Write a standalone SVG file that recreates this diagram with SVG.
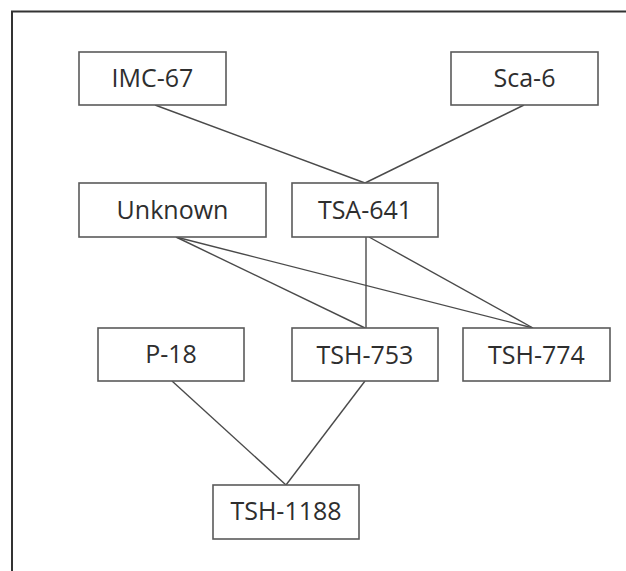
<svg xmlns="http://www.w3.org/2000/svg" width="626" height="571" viewBox="0 0 626 571">
<style>
.box{fill:#fff;stroke:#5a5a5a;stroke-width:1.6}
.t{font-family:"Open Sans","Liberation Sans",sans-serif;font-size:25px;fill:#2e2e2e;text-anchor:middle}
.c{stroke:#4a4a4a;stroke-width:1.4;fill:none}
</style>
<rect width="626" height="571" fill="#fff"/>
<path d="M12 571 V11.5 H626" fill="none" stroke="#333" stroke-width="2"/>
<g id="connectors">
<line class="c" x1="155" y1="105" x2="365" y2="183"/>
<line class="c" x1="524" y1="105" x2="365" y2="183"/>
<line class="c" x1="176" y1="237" x2="365" y2="328"/>
<line class="c" x1="176" y1="237" x2="533" y2="328"/>
<line class="c" x1="366" y1="237" x2="366" y2="328"/>
<line class="c" x1="369" y1="237" x2="533" y2="328"/>
<line class="c" x1="172" y1="381" x2="286" y2="485"/>
<line class="c" x1="365" y1="381" x2="286" y2="485"/>
</g>
<g id="imc67"><rect class="box" x="79" y="52" width="147" height="53"/><text class="t" x="152.5" y="87">IMC-67</text></g>
<g id="sca6"><rect class="box" x="451" y="52" width="147" height="53"/><text class="t" x="524.5" y="87">Sca-6</text></g>
<g id="unknown"><rect class="box" x="79" y="183" width="187" height="54"/><text class="t" x="172.5" y="219">Unknown</text></g>
<g id="tsa641"><rect class="box" x="292" y="183" width="146" height="54"/><text class="t" x="365" y="219">TSA-641</text></g>
<g id="p18"><rect class="box" x="98" y="328" width="146" height="53"/><text class="t" x="171" y="363">P-18</text></g>
<g id="tsh753"><rect class="box" x="292" y="328" width="146" height="53"/><text class="t" x="365" y="364">TSH-753</text></g>
<g id="tsh774"><rect class="box" x="463" y="328" width="147" height="53"/><text class="t" x="536.5" y="364">TSH-774</text></g>
<g id="tsh1188"><rect class="box" x="213" y="485" width="146" height="54"/><text class="t" x="286" y="520">TSH-1188</text></g>
</svg>
